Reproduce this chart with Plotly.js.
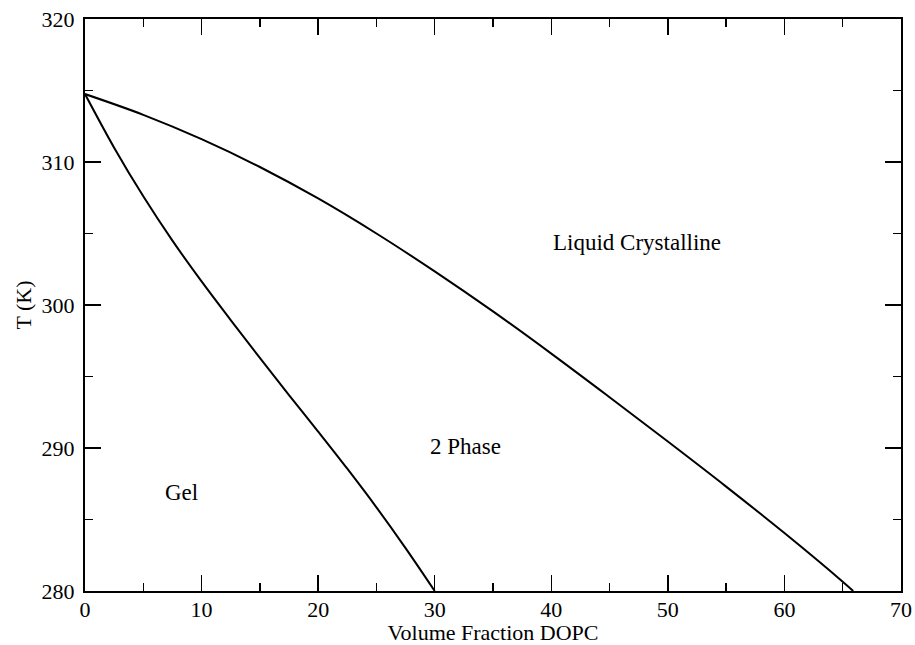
<!DOCTYPE html>
<html>
<head>
<meta charset="utf-8">
<script src="https://cdn.plot.ly/plotly-3.0.1.min.js"></script>
<style>html,body{margin:0;padding:0;background:#fff;}#chart{width:915px;height:645px;}</style>
</head>
<body>
<div id="chart"></div>
<script>
// Liquid crystalline boundary (liquidus)
var upperX = [0, 5, 10, 15, 20, 25, 30, 35, 40, 45, 50, 55, 60, 65, 65.9];
var upperT = [314.75, 313.3, 311.6, 309.65, 307.45, 305.0, 302.35, 299.55, 296.6, 293.55, 290.45, 287.3, 284.05, 280.65, 280.0];
// Gel boundary (solidus)
var lowerX = [0, 2.5, 5, 7.5, 10, 12.5, 15, 17.5, 20, 22.5, 25, 27.5, 30];
var lowerT = [314.75, 311.0, 307.6, 304.5, 301.65, 298.95, 296.3, 293.7, 291.15, 288.55, 285.85, 283.0, 280.0];
// Region labels
var labelText = ["Liquid Crystalline", "2 Phase", "Gel"];
var labelX = [40, 29.4, 6.7];
var labelT = [304.4, 290.1, 286.9];

var font = "Liberation Serif";

var traces = [
  {x: upperX, y: upperT, mode: "lines", line: {color: "#000", width: 2, shape: "spline", smoothing: 1}, hoverinfo: "skip"},
  {x: lowerX, y: lowerT, mode: "lines", line: {color: "#000", width: 2, shape: "spline", smoothing: 1}, hoverinfo: "skip"}
];

var annotations = labelText.map(function (t, i) {
  return {x: labelX[i], y: labelT[i], text: t, showarrow: false, xanchor: "left", yanchor: "middle",
          font: {family: font, size: 23, color: "#000"}};
});

function axis(range, dtick, title) {
  return {
    range: range, dtick: dtick, tick0: range[0], autorange: false,
    showgrid: false, zeroline: false,
    showline: true, linecolor: "#000", linewidth: 2, mirror: "ticks",
    ticks: "inside", ticklen: 16, tickwidth: 1.5, tickcolor: "#000",
    minor: {dtick: dtick / 2, ticks: "inside", ticklen: 8, tickwidth: 1.5, tickcolor: "#000", showgrid: false},
    tickfont: {family: font, size: 22, color: "#000"},
    title: {text: title, font: {family: font, size: 22, color: "#000"}, standoff: 4}
  };
}

var layout = {
  width: 915, height: 645,
  margin: {l: 85, r: 14, t: 19, b: 54},
  paper_bgcolor: "#fff", plot_bgcolor: "#fff",
  font: {family: font, color: "#000"},
  showlegend: false,
  xaxis: axis([0, 70], 10, "Volume Fraction DOPC"),
  yaxis: axis([280, 320], 10, "T (K)"),
  annotations: annotations
};
layout.xaxis.ticklabelstandoff = -2;
layout.yaxis.ticklabelstandoff = 4;

Plotly.newPlot("chart", traces, layout, {displayModeBar: false, staticPlot: true});
</script>
</body>
</html>
